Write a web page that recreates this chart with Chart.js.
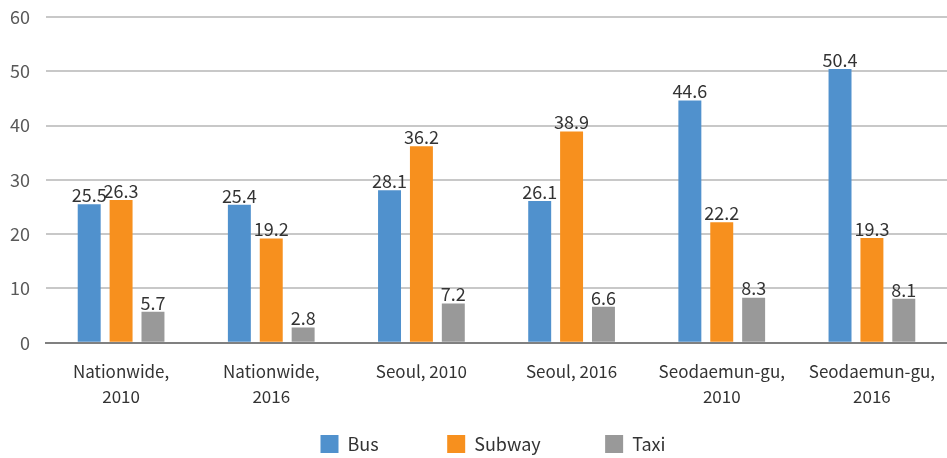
<!DOCTYPE html>
<html>
<head>
<meta charset="utf-8">
<script src="https://cdn.jsdelivr.net/npm/chart.js@4"></script>
<style>
  html, body { margin: 0; padding: 0; background: #fff; }
  #wrap { width: 947px; height: 458px; }
</style>
</head>
<body>
<div id="wrap"><canvas id="modeChart"></canvas></div>
<script>
// commuting mode share (%) by region and year
const regions = [
    ["Nationwide,", "2010"],
    ["Nationwide,", "2016"],
    "Seoul, 2010",
    "Seoul, 2016",
    ["Seodaemun-gu,", "2010"],
    ["Seodaemun-gu,", "2016"]
];
const busShare = [25.5, 25.4, 28.1, 26.1, 44.6, 50.4];
const subwayShare = [26.3, 19.2, 36.2, 38.9, 22.2, 19.3];
const taxiShare = [5.7, 2.8, 7.2, 6.6, 8.3, 8.1];
const yTicks = [0, 10, 20, 30, 40, 50, 60];

const FONT = "'Noto Sans CJK KR', 'Noto Sans', sans-serif";

// Writes each bar's value just above it
const valueLabels = {
    id: "valueLabels",
    afterDatasetsDraw(chart) {
        const ctx = chart.ctx;
        ctx.save();
        ctx.font = "18px " + FONT;
        ctx.fillStyle = "#333333";
        ctx.textAlign = "center";
        ctx.textBaseline = "bottom";
        chart.data.datasets.forEach((ds, i) => {
            chart.getDatasetMeta(i).data.forEach((bar, j) => {
                ctx.fillText(ds.data[j].toFixed(1), bar.x, bar.y);
            });
        });
        ctx.restore();
    }
};

// nudge the centred legend right and down a little
const legendShift = {
    id: "legendShift",
    afterLayout(chart) {
        const lg = chart.legend;
        lg.left += 18;
        lg.right += 18;
        lg.top += 5;
        lg.bottom += 5;
    }
};

// legend entries are spread apart with trailing spaces, since the
// legend's own padding also grows it vertically
const legendGaps = ["                ", "               ", ""];

const ctx = document.getElementById("modeChart").getContext("2d");
new Chart(ctx, {
    type: "bar",
    data: {
        labels: regions,
        datasets: [
            { label: "Bus", data: busShare, backgroundColor: "#5091CD" },
            { label: "Subway", data: subwayShare, backgroundColor: "#F7901E" },
            { label: "Taxi", data: taxiShare, backgroundColor: "#999999" }
        ]
    },
    options: {
        responsive: true,
        maintainAspectRatio: false,
        animation: false,
        categoryPercentage: 0.637,
        barPercentage: 0.72,
        layout: { padding: { top: 0, right: -3, left: 0, bottom: 0 } },
        scales: {
            x: {
                grid: { display: false },
                border: { color: "#808080", width: 2 },
                ticks: {
                    color: "#333333",
                    font: { family: FONT, size: 17, lineHeight: 1.45 },
                    maxRotation: 0,
                    padding: 9
                },
                afterFit: scale => { scale.height += 8; }
            },
            y: {
                min: 0,
                max: 60,
                afterBuildTicks: axis => {
                    axis.ticks = yTicks.map(v => ({ value: v }));
                },
                afterFit: scale => {
                    scale.width = 46;
                    scale.paddingTop = 17;
                },
                grid: {
                    color: ctx => ctx.tick.value === 0 ? "#808080" : "#C8C8C8",
                    lineWidth: 2,
                    drawTicks: false
                },
                border: { display: false },
                ticks: {
                    color: "#595959",
                    font: { family: FONT, size: 18 },
                    padding: 16
                }
            }
        },
        plugins: {
            legend: {
                position: "bottom",
                labels: {
                    color: "#333333",
                    font: { family: FONT, size: 18 },
                    boxWidth: 18,
                    boxHeight: 18,
                    padding: 4,
                    generateLabels: chart => {
                        const items = Chart.defaults.plugins.legend.labels.generateLabels(chart);
                        items.forEach((item, i) => { item.text += legendGaps[i]; });
                        return items;
                    }
                }
            },
            tooltip: { enabled: false }
        }
    },
    plugins: [valueLabels, legendShift]
});
</script>
</body>
</html>
